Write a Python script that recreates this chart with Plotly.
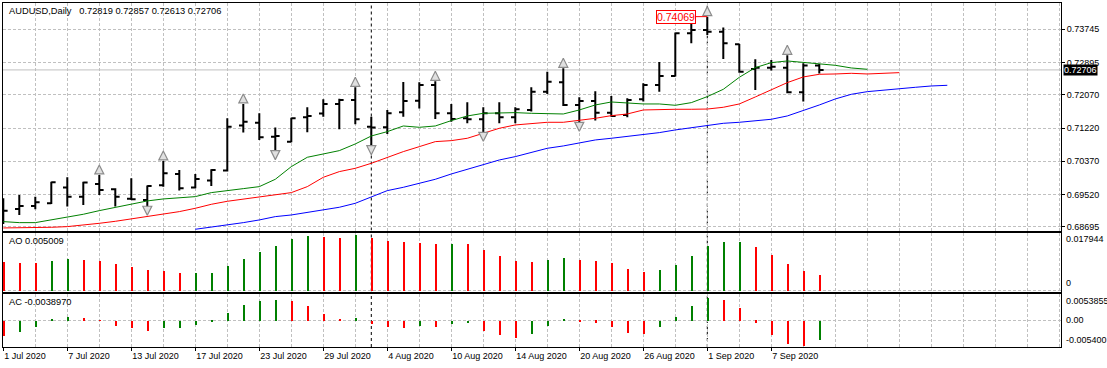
import plotly.graph_objects as go
import pandas as pd

# ---------------- data ----------------
symbol = "AUDUSD"
timeframe = "Daily"
dates = list(pd.bdate_range("2020-07-01", "2020-09-10"))

opens = [0.69038, 0.69149, 0.69226, 0.69294, 0.69695, 0.69464, 0.69788, 0.69652, 0.69413, 0.69379,
         0.69754, 0.70044, 0.69695, 0.69874, 0.70130, 0.71281, 0.71357, 0.70999, 0.70871, 0.71494,
         0.71588, 0.71835, 0.71937, 0.71255, 0.71238, 0.71622, 0.71920, 0.72321, 0.71596, 0.71468,
         0.71443, 0.71596, 0.71494, 0.71681, 0.72150, 0.72389, 0.71810, 0.71912, 0.71613, 0.71554,
         0.71954, 0.72321, 0.72551, 0.73643, 0.73728, 0.73685, 0.73361, 0.72730, 0.72764, 0.72764,
         0.72133, 0.72819]
highs = [0.69422, 0.69507, 0.69464, 0.69848, 0.69959, 0.69848, 0.70019, 0.69678, 0.69933, 0.69746,
         0.70377, 0.70147, 0.70044, 0.70164, 0.71468, 0.71835, 0.71596, 0.71230, 0.71485, 0.71750,
         0.71954, 0.71971, 0.72261, 0.71511, 0.71681, 0.72398, 0.72389, 0.72415, 0.71835, 0.71878,
         0.71750, 0.71878, 0.71750, 0.72261, 0.72662, 0.72747, 0.72006, 0.72159, 0.72040, 0.71980,
         0.72364, 0.72909, 0.73660, 0.74026, 0.74069, 0.73788, 0.73370, 0.72978, 0.72961, 0.73080,
         0.72875, 0.72857]
lows = [0.68765, 0.68995, 0.69140, 0.69277, 0.69209, 0.69251, 0.69507, 0.69209, 0.69379, 0.69192,
        0.69720, 0.69618, 0.69678, 0.69737, 0.70104, 0.71102, 0.70914, 0.70616, 0.70854, 0.71110,
        0.71511, 0.71187, 0.71315, 0.70743, 0.71068, 0.71511, 0.71716, 0.71451, 0.71383, 0.71340,
        0.71085, 0.71340, 0.71340, 0.71639, 0.72091, 0.71784, 0.71340, 0.71409, 0.71511, 0.71494,
        0.71895, 0.72150, 0.72540, 0.73387, 0.73600, 0.72986, 0.72636, 0.72193, 0.72688, 0.72108,
        0.71895, 0.72613]
closes = [0.69106, 0.69226, 0.69319, 0.69831, 0.69464, 0.69823, 0.69635, 0.69464, 0.69396, 0.69737,
          0.70061, 0.69678, 0.69916, 0.70147, 0.71255, 0.71383, 0.70982, 0.71016, 0.71468, 0.71528,
          0.71835, 0.71937, 0.71443, 0.71230, 0.71596, 0.71912, 0.72321, 0.71596, 0.71451, 0.71443,
          0.71596, 0.71494, 0.71699, 0.72150, 0.72406, 0.71810, 0.71912, 0.71613, 0.71528, 0.71937,
          0.72321, 0.72551, 0.73643, 0.73728, 0.73685, 0.73387, 0.72662, 0.72764, 0.72790, 0.72133,
          0.72816, 0.72706]

# Alligator lines (lips / teeth start at bar 0, jaw becomes visible at bar 12)
lips = [0.68825, 0.68799, 0.68799, 0.68868, 0.68936, 0.69013, 0.69106, 0.69192, 0.69277, 0.69354,
        0.69405, 0.69439, 0.69464, 0.69567, 0.69626, 0.69669, 0.69720, 0.69908, 0.70232, 0.70471,
        0.70556, 0.70641, 0.70812, 0.71016, 0.71127, 0.71272, 0.71238, 0.71272, 0.71409, 0.71528,
        0.71596, 0.71613, 0.71613, 0.71596, 0.71579, 0.71579, 0.71681, 0.71809, 0.71886, 0.71852,
        0.71835, 0.71835, 0.71801, 0.71869, 0.72023, 0.72210, 0.72517, 0.72764, 0.72892, 0.72935,
        0.72892, 0.72867, 0.72824, 0.72756, 0.72722]
teeth = [0.68663, 0.68663, 0.68671, 0.68680, 0.68697, 0.68731, 0.68782, 0.68833, 0.68893, 0.68953,
         0.69021, 0.69081, 0.69166, 0.69268, 0.69345, 0.69405, 0.69464, 0.69524, 0.69567, 0.69720,
         0.69959, 0.70104, 0.70189, 0.70317, 0.70471, 0.70616, 0.70743, 0.70871, 0.70897, 0.70957,
         0.71085, 0.71212, 0.71298, 0.71340, 0.71366, 0.71366, 0.71409, 0.71468, 0.71536, 0.71579,
         0.71681, 0.71699, 0.71699, 0.71699, 0.71705, 0.71750, 0.71835, 0.72014, 0.72202, 0.72381,
         0.72526, 0.72594, 0.72602, 0.72619, 0.72602, 0.72619, 0.72636]
jaw_start = 12
jaw = [0.68629, 0.68680, 0.68740, 0.68799, 0.68868, 0.68953, 0.68995, 0.69055, 0.69123, 0.69192,
       0.69294, 0.69464, 0.69618, 0.69703, 0.69806, 0.69908, 0.70044, 0.70164, 0.70300, 0.70402,
       0.70488, 0.70590, 0.70701, 0.70761, 0.70846, 0.70914, 0.70957, 0.70999, 0.71042, 0.71102,
       0.71170, 0.71230, 0.71298, 0.71340, 0.71366, 0.71400, 0.71443, 0.71528, 0.71664, 0.71809,
       0.71963, 0.72082, 0.72150, 0.72193, 0.72236, 0.72261, 0.72295, 0.72312]

ao = [0.00919, 0.00886, 0.00884, 0.00951, 0.01005, 0.00973, 0.00940, 0.00843, 0.00757, 0.00649,
      0.00616, 0.00551, 0.00562, 0.00565, 0.00778, 0.01005, 0.01232, 0.01438, 0.01654, 0.01751,
      0.01719, 0.01686, 0.017944, 0.01686, 0.01600, 0.01557, 0.01550, 0.01503, 0.01505, 0.01500,
      0.01308, 0.01113, 0.00951, 0.00919, 0.00984, 0.01038, 0.00973, 0.00970, 0.00886, 0.00692,
      0.00595, 0.00659, 0.00811, 0.01103, 0.01427, 0.01578, 0.01580, 0.01394, 0.01146, 0.00843,
      0.00616, 0.005009]
ac = [-0.00308, -0.00234, -0.00134, 0.00020, 0.00067, 0.00047, 0.00005, -0.00114, -0.00154, -0.00214,
      -0.00154, -0.00148, -0.00094, -0.00034, 0.00147, 0.00308, 0.00389, 0.00409, 0.00389, 0.00302,
      0.00141, 0.00040, 0.00045, -0.00060, -0.00121, -0.00141, -0.00100, -0.00121, -0.00060, -0.00054,
      -0.00201, -0.00282, -0.00342, -0.00262, -0.00100, 0.00040, -0.00013, -0.00040, -0.00120, -0.00241,
      -0.00261, -0.00120, 0.00080, 0.00301, 0.00462, 0.00422, 0.00261, -0.00040, -0.00281, -0.00462,
      -0.00502, -0.0038970]

fractal_up = [6, 10, 15, 22, 27, 35, 44, 49]
fractal_down = [9, 17, 23, 30, 36]

price_ticks = [0.73745, 0.72895, 0.72070, 0.71220, 0.70370, 0.69520, 0.68695]
ao_labels = ["0.017944", "0"]
ac_labels = ["0.0053855", "0.00", "-0.005400"]

# ---------------- layout geometry (pixels) ----------------
W, H = 1107, 368
X0, X1 = 2.5, 1061.0
BAR_PX = 16.0
BAR0_PX = 3.3
MAIN = (2.5, 230.5)
AOP = (232.5, 291.5)
ACP = (293.5, 347.0)


def dom(p):
    return [1 - p[1] / H, 1 - p[0] / H]


xr = [(X0 - BAR0_PX) / BAR_PX, (X1 - BAR0_PX) / BAR_PX]
main_range = [0.685978, 0.744306]
ao_range = [-0.000485, 0.018591]
ac_range = [-0.0054, 0.0053855]
main_ppu = (MAIN[1] - MAIN[0]) / (main_range[1] - main_range[0])

GREEN = "#008000"
RED = "#FF0000"
GRID = "#C0C0C0"
GRID_DASH = "3px,2px"
FONT = "Liberation Sans"

n = len(closes)
idx = list(range(n))

fig = go.Figure()

fig.add_trace(go.Ohlc(
    x=idx, open=opens, high=highs, low=lows, close=closes,
    increasing=dict(line=dict(color="black", width=2)),
    decreasing=dict(line=dict(color="black", width=2)),
    tickwidth=0.27, xaxis="x", yaxis="y", hoverinfo="skip", showlegend=False))

fig.add_trace(go.Scatter(x=list(range(jaw_start, jaw_start + len(jaw))), y=jaw, mode="lines",
                         line=dict(color="#0000FF", width=1), xaxis="x", yaxis="y",
                         showlegend=False, hoverinfo="skip"))
fig.add_trace(go.Scatter(x=list(range(len(teeth))), y=teeth, mode="lines",
                         line=dict(color=RED, width=1), xaxis="x", yaxis="y",
                         showlegend=False, hoverinfo="skip"))
fig.add_trace(go.Scatter(x=list(range(len(lips))), y=lips, mode="lines",
                         line=dict(color=GREEN, width=1), xaxis="x", yaxis="y",
                         showlegend=False, hoverinfo="skip"))

fig.add_trace(go.Scatter(
    x=fractal_up, y=[highs[i] + 10 / main_ppu for i in fractal_up], mode="markers",
    marker=dict(symbol="arrow-up", size=9, color="#E0E0E0", line=dict(color="#8C8C8C", width=1.2)),
    xaxis="x", yaxis="y", showlegend=False, hoverinfo="skip"))
fig.add_trace(go.Scatter(
    x=fractal_down, y=[lows[i] - 8 / main_ppu for i in fractal_down], mode="markers",
    marker=dict(symbol="arrow-down", size=9, color="#E0E0E0", line=dict(color="#8C8C8C", width=1.2)),
    xaxis="x", yaxis="y", showlegend=False, hoverinfo="skip"))


def updown(vals):
    cols = [RED]
    for i in range(1, len(vals)):
        cols.append(GREEN if vals[i] > vals[i - 1] else RED)
    return cols


fig.add_trace(go.Bar(x=idx, y=ao, width=0.13, marker=dict(color=updown(ao), line=dict(width=0)),
                     xaxis="x2", yaxis="y2", showlegend=False, hoverinfo="skip"))
fig.add_trace(go.Bar(x=idx, y=ac, width=0.13, marker=dict(color=updown(ac), line=dict(width=0)),
                     xaxis="x3", yaxis="y3", showlegend=False, hoverinfo="skip"))

label_idx = list(range(0, n, 4))
label_txt = [f"{dates[i].day} {dates[i].strftime('%b')} {dates[i].year}" for i in label_idx]
grid_idx = list(range(2, int(xr[1]) + 1, 2))

xcommon = dict(range=xr, showline=True, mirror=True, linecolor="black", linewidth=1,
               tickmode="array", tickvals=label_idx, ticktext=label_txt,
               showgrid=True, gridcolor=GRID, griddash=GRID_DASH, gridwidth=1,
               minor=dict(tickvals=grid_idx, showgrid=True, gridcolor=GRID, griddash=GRID_DASH,
                          gridwidth=1, ticks=""),
               zeroline=False, fixedrange=True,
               domain=[X0 / W, X1 / W])

fig.update_layout(
    width=W, height=H, margin=dict(l=0, r=0, t=0, b=0, pad=0, autoexpand=False),
    autosize=False,
    paper_bgcolor="white", plot_bgcolor="white",
    bargap=0, showlegend=False, hovermode=False,
    font=dict(family=FONT, size=9, color="black"),
    xaxis=dict(**xcommon, anchor="y", showticklabels=False, ticks="",
               rangeslider=dict(visible=False)),
    xaxis2=dict(**xcommon, anchor="y2", matches="x", showticklabels=False, ticks=""),
    xaxis3=dict(**xcommon, anchor="y3", matches="x", showticklabels=True, ticks="outside",
                ticklen=3, tickcolor="black", ticklabelposition="outside right",
                tickfont=dict(family=FONT, size=9, color="black")),
    yaxis=dict(domain=dom(MAIN), range=main_range, side="right", anchor="x",
               showline=True, mirror=True, linecolor="black", linewidth=1,
               tickmode="array", tickvals=price_ticks, ticktext=[f"{v:.5f}" for v in price_ticks],
               ticks="outside", ticklen=3, tickcolor="black",
               tickfont=dict(family=FONT, size=9, color="black"),
               showgrid=True, gridcolor=GRID, griddash=GRID_DASH, zeroline=False, fixedrange=True),
    yaxis2=dict(domain=dom(AOP), range=ao_range, side="right", anchor="x2",
                showline=True, mirror=True, linecolor="black", linewidth=1,
                tickmode="array", tickvals=[0], showticklabels=False, ticks="",
                showgrid=True, gridcolor=GRID, griddash=GRID_DASH, zeroline=False, fixedrange=True),
    yaxis3=dict(domain=dom(ACP), range=ac_range, side="right", anchor="x3",
                showline=True, mirror=True, linecolor="black", linewidth=1,
                tickmode="array", tickvals=[0], showticklabels=False, ticks="",
                showgrid=True, gridcolor=GRID, griddash=GRID_DASH, zeroline=False, fixedrange=True),
)

# current price line
fig.add_shape(type="line", xref="x", x0=xr[0], x1=xr[1], yref="y", y0=closes[-1], y1=closes[-1],
              line=dict(color=GRID, width=1), layer="below")

# monthly period separators
for i in range(1, n):
    if dates[i].month != dates[i - 1].month:
        for xa, ya, rng in (("x", "y", main_range), ("x2", "y2", ao_range), ("x3", "y3", ac_range)):
            fig.add_shape(type="line", xref=xa, x0=i, x1=i, yref=ya, y0=rng[0], y1=rng[1],
                          line=dict(color="black", width=1, dash="3px,3px"), layer="below")

# texts
fig.add_annotation(xref="paper", yref="paper", x=6.5 / W, y=1 - 10.7 / H, xanchor="left", yanchor="middle",
                   text=f"{symbol},{timeframe}\u00a0\u00a0 {opens[-1]:.5f} {highs[-1]:.5f} {lows[-1]:.5f} {closes[-1]:.5f}",
                   showarrow=False, font=dict(family=FONT, size=9.3, color="black"))
fig.add_annotation(xref="paper", yref="paper", x=6.5 / W, y=1 - 241 / H, xanchor="left", yanchor="middle",
                   text=f"AO {ao[-1]:.6f}", showarrow=False, font=dict(family=FONT, size=9.3, color="black"))
fig.add_annotation(xref="paper", yref="paper", x=6.5 / W, y=1 - 302 / H, xanchor="left", yanchor="middle",
                   text=f"AC {ac[-1]:.7f}", showarrow=False, font=dict(family=FONT, size=9.3, color="black"))

# highest high marker label
imax = max(range(n), key=lambda i: highs[i])
fig.add_annotation(x=imax, y=highs[imax], xref="x", yref="y", text=f"{highs[imax]:.5f}",
                   showarrow=True, arrowhead=0, arrowcolor=RED, arrowwidth=1, ax=-31, ay=0,
                   bordercolor=RED, borderwidth=1, borderpad=0, bgcolor="white",
                   font=dict(family=FONT, size=10.5, color=RED))

# current price box on the axis
fig.add_annotation(xref="paper", yref="y", x=(X1 + 1.5) / W, y=closes[-1], xanchor="left", yanchor="middle",
                   text=f"{closes[-1]:.5f}", showarrow=False, bgcolor="black", borderpad=0,
                   font=dict(family=FONT, size=9, color="white"))

# indicator scale labels
lx = (X1 + 2.5) / W
y2d, y3d = dom(AOP), dom(ACP)
fig.add_annotation(xref="paper", yref="paper", x=lx, y=y2d[1], xanchor="left", yanchor="top",
                   text=ao_labels[0], showarrow=False, font=dict(family=FONT, size=9, color="black"))
fig.add_annotation(xref="paper", yref="y2", x=lx, y=0, xanchor="left", yanchor="bottom",
                   text=ao_labels[1], showarrow=False, font=dict(family=FONT, size=9, color="black"))
fig.add_annotation(xref="paper", yref="paper", x=lx, y=y3d[1], xanchor="left", yanchor="top",
                   text=ac_labels[0], showarrow=False, font=dict(family=FONT, size=9, color="black"))
fig.add_annotation(xref="paper", yref="y3", x=lx, y=0, xanchor="left", yanchor="middle",
                   text=ac_labels[1], showarrow=False, font=dict(family=FONT, size=9, color="black"))
fig.add_annotation(xref="paper", yref="paper", x=lx, y=y3d[0], xanchor="left", yanchor="bottom",
                   text=ac_labels[2], showarrow=False, font=dict(family=FONT, size=9, color="black"))

fig.write_html("out.html", config={"displayModeBar": False},
               post_script="document.body.style.margin='0px';document.body.style.overflow='hidden';")
